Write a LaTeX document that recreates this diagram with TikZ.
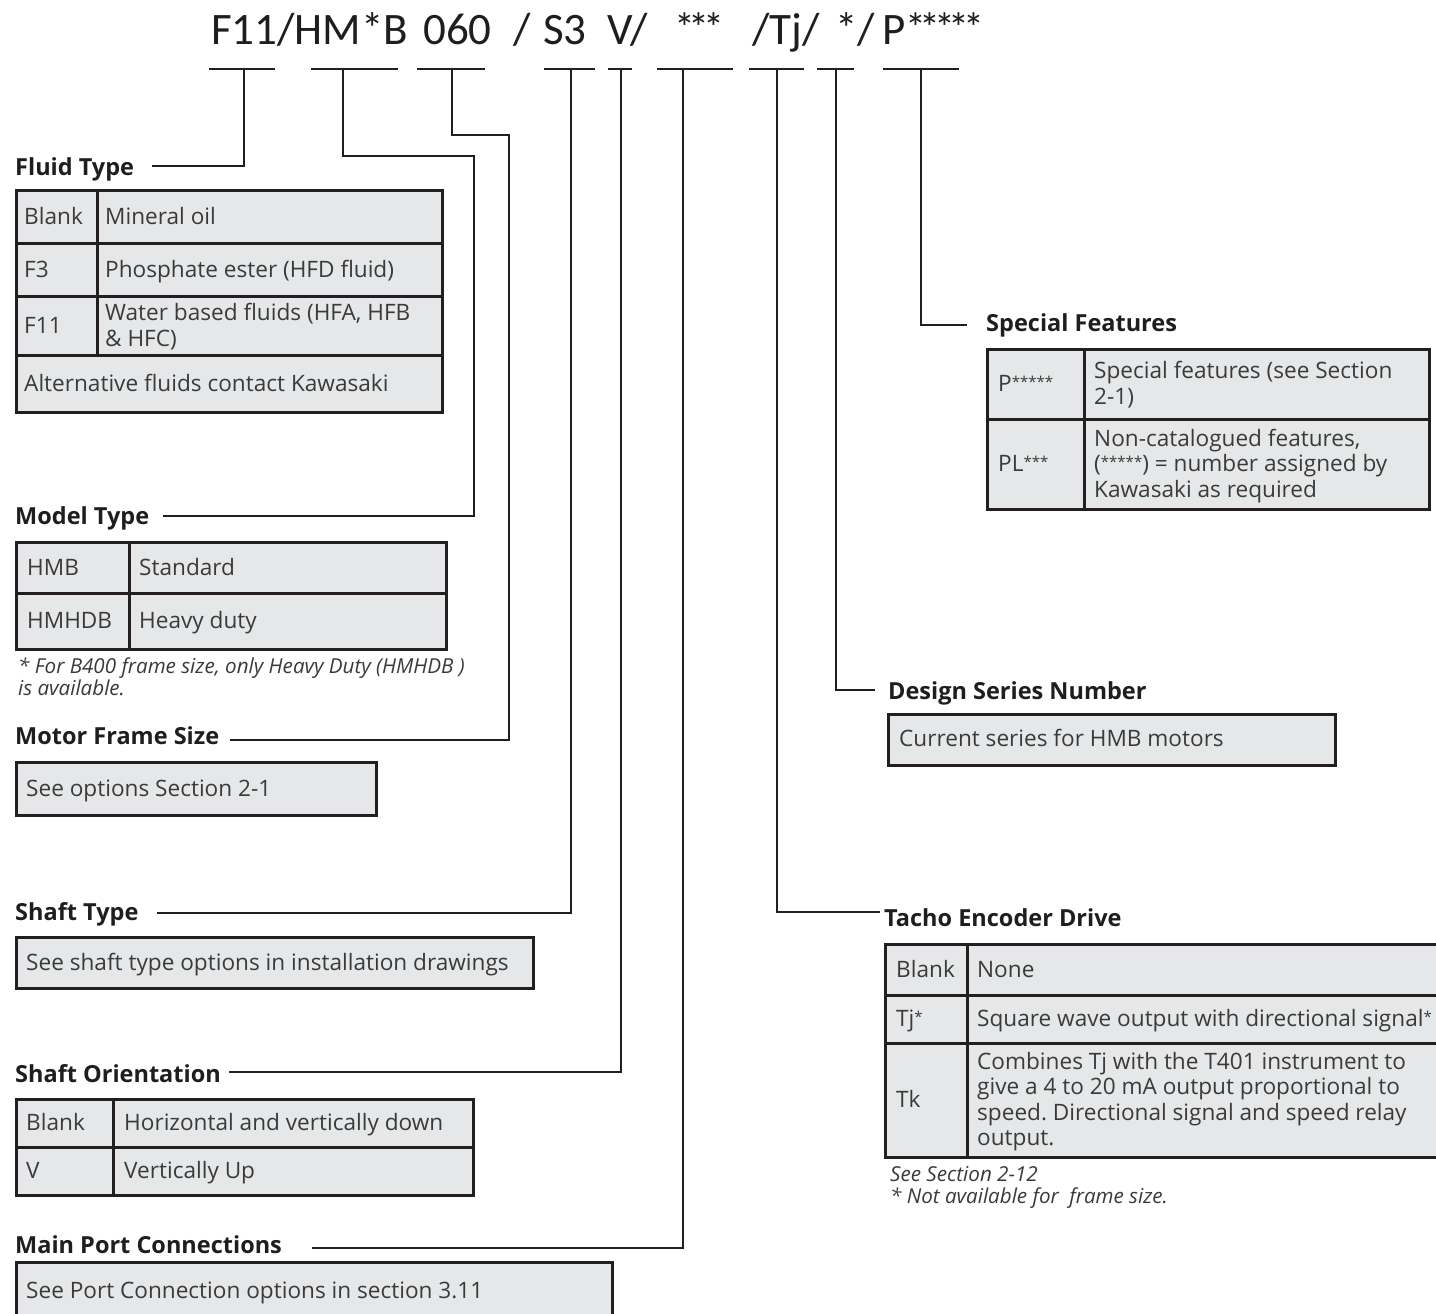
\documentclass[tikz,border=0pt]{standalone}
\usepackage{fontspec}
\setmainfont{Open Sans}
\newfontfamily\codefont{Carlito}
\frenchspacing
\definecolor{lc}{HTML}{231F20}
\definecolor{tg}{HTML}{E6E7E8}
\definecolor{tc}{HTML}{3A3A3A}
\definecolor{hc}{HTML}{1E1E1E}
\newcommand\hstar{\raisebox{2pt}{\fontsize{42}{42}\selectfont *}\kern-6.5pt}
\newcommand\sstar[1]{\raisebox{4.5pt}{\fontsize{15}{15}\selectfont #1}}
\tikzset{
  ln/.style={draw=lc, line width=2.5pt},
  cell/.style 2 args={draw=lc, fill=tg, line width=2.8pt, anchor=north west, inner sep=0pt, minimum width=#1pt, minimum height=#2pt},
  tx/.style={anchor=base west, inner sep=0pt, text=tc, font=\fontsize{22.6}{26}\selectfont},
  hd/.style={anchor=base west, inner sep=0pt, text=hc, font=\fontsize{23.5}{28}\selectfont\bfseries},
  fn/.style={anchor=base west, inner sep=0pt, text=tc, font=\fontsize{20.6}{22}\selectfont\itshape},
  code/.style={anchor=base west, inner sep=0pt, text=hc, font=\fontsize{45}{50}\selectfont\codefont}
}
\begin{document}
\begin{tikzpicture}[x=1pt,y=-1pt]
\clip (0,0) rectangle (1436,1314);
\fill[white] (0,0) rectangle (1436,1314);

% ---- header code ----
\node[code] (c1) at (211,45) {F11/HM*B};
\node[code] (c2) at (423,45) {060};
\node[code] (c3) at (513,45) {/};
\node[code] (c4) at (543,45) {S3};
\node[code] (c5) at (607,45) {V/};
\node[code] (c6) at (674,45) {\hstar\hstar\hstar};
\node[code] (c7) at (752,45) {/Tj/};
\node[code] (c8) at (835,45) {*/};
\node[code] (c9) at (882,45) {P\hstar\hstar\hstar\hstar\hstar};

% ---- underline segments ----
\coordinate (uA1) at (209,69); \coordinate (uA2) at (275,69); \coordinate (uA) at (244,69);
\coordinate (uB1) at (311,69); \coordinate (uB2) at (398,69); \coordinate (uB) at (343,69);
\coordinate (uC1) at (417,69); \coordinate (uC2) at (485,69); \coordinate (uC) at (452,69);
\coordinate (uD1) at (544,69); \coordinate (uD2) at (595,69); \coordinate (uD) at (571,69);
\coordinate (uE1) at (608,69); \coordinate (uE2) at (632,69); \coordinate (uE) at (621,69);
\coordinate (uF1) at (657,69); \coordinate (uF2) at (733,69); \coordinate (uF) at (683,69);
\coordinate (uG1) at (749,69); \coordinate (uG2) at (804,69); \coordinate (uG) at (777,69);
\coordinate (uH1) at (817,69); \coordinate (uH2) at (854,69); \coordinate (uH) at (836,69);
\coordinate (uI1) at (883,69); \coordinate (uI2) at (959,69); \coordinate (uI) at (921,69);
\foreach \s in {A,B,C,D,E,F,G,H,I}{\draw[ln] (u\s1) -- (u\s2);}

% ---- connector ends ----
\coordinate (eA) at (152,166);
\coordinate (kB) at (474,156); \coordinate (eB) at (163,516);
\coordinate (kC) at (509,135); \coordinate (eC) at (230,740);
\coordinate (eD) at (157,913);
\coordinate (eE) at (229,1072);
\coordinate (eF) at (312,1248);
\coordinate (eG) at (880,912);
\coordinate (eH) at (875,690);
\coordinate (eI) at (967,325);

\draw[ln] (uA) |- (eA);
\draw[ln] (uB) |- (kB) |- (eB);
\draw[ln] (uC) |- (kC) |- (eC);
\draw[ln] (uD) |- (eD);
\draw[ln] (uE) |- (eE);
\draw[ln] (uF) |- (eF);
\draw[ln] (uG) |- (eG);
\draw[ln] (uH) |- (eH);
\draw[ln] (uI) |- (eI);

% ---- headings ----
\node[hd] (hFluid) at (15,175) {Fluid Type};
\node[hd] (hModel) at (15,524) {Model Type};
\node[hd] (hFrame) at (15,744) {Motor Frame Size};
\node[hd] (hShaft) at (15,920) {Shaft Type};
\node[hd] (hOrient) at (15,1082) {Shaft Orientation};
\node[hd] (hPort) at (15,1253) {Main Port Connections};
\node[hd] (hSpecial) at (986,331) {Special Features};
\node[hd] (hDesign) at (888,699) {Design Series Number};
\node[hd] (hTacho) at (884,926) {Tacho Encoder Drive};

% ---- Fluid Type table ----
\node[cell={81}{53}] (fA1) at (15,189) {};
\node[cell={345}{53}] (fB1) at (96,189) {};
\node[cell={81}{53}] (fA2) at (15,242) {};
\node[cell={345}{53}] (fB2) at (96,242) {};
\node[cell={81}{59}] (fA3) at (15,295) {};
\node[cell={345}{59}] (fB3) at (96,295) {};
\node[cell={426}{57}] (fA4) at (15,354) {};
\node[tx] (ft1) at (24,224) {Blank};
\node[tx] (ft2) at (105,224) {Mineral oil};
\node[tx] (ft3) at (24,277) {F3};
\node[tx] (ft4) at (105,277) {Phosphate ester (HFD fluid)};
\node[tx] (ft5) at (24,333) {F11};
\node[tx] (ft6) at (105,320.5) {Water based fluids (HFA, HFB};
\node[tx] (ft7) at (105,346) {\& HFC)};
\node[tx] (ft8) at (24,391) {Alternative fluids contact Kawasaki};

% ---- Model Type table ----
\node[cell={113}{51}] (mA1) at (15,541) {};
\node[cell={317}{51}] (mB1) at (128,541) {};
\node[cell={113}{56}] (mA2) at (15,592) {};
\node[cell={317}{56}] (mB2) at (128,592) {};
\node[tx] (mt1) at (27,575) {HMB};
\node[tx] (mt2) at (139,575) {Standard};
\node[tx] (mt3) at (27,628.5) {HMHDB};
\node[tx] (mt4) at (139,628.5) {Heavy duty};
\node[fn] (mf1) at (18,673) {* For B400 frame size, only Heavy Duty (HMHDB )};
\node[fn] (mf2) at (18,695) {is available.};

% ---- Motor frame size ----
\node[cell={360}{53}] (frB) at (15,761) {};
\node[tx] (frt) at (26,796) {See options Section 2-1};

% ---- Shaft type ----
\node[cell={517}{51}] (shB) at (15,936) {};
\node[tx] (sht) at (26,970) {See shaft type options in installation drawings};

% ---- Shaft orientation ----
\node[cell={97}{48}] (oA1) at (15,1098) {};
\node[cell={360}{48}] (oB1) at (112,1098) {};
\node[cell={97}{48}] (oA2) at (15,1146) {};
\node[cell={360}{48}] (oB2) at (112,1146) {};
\node[tx] (ot1) at (26,1130.5) {Blank};
\node[tx] (ot2) at (124,1130.5) {Horizontal and vertically down};
\node[tx] (ot3) at (26,1178.5) {V};
\node[tx] (ot4) at (124,1178.5) {Vertically Up};

% ---- Main port ----
\node[cell={596}{80}] (pB) at (15,1261) {};
\node[tx] (pt) at (26,1298) {See Port Connection options in section 3.11};

% ---- Special features ----
\node[cell={97}{70}] (sA1) at (986,348) {};
\node[cell={345}{70}] (sB1) at (1083,348) {};
\node[cell={97}{90}] (sA2) at (986,418) {};
\node[cell={345}{90}] (sB2) at (1083,418) {};
\node[tx] (st1) at (998,391.5) {P\sstar{*****}};
\node[tx] (st2) at (1094,378.5) {Special features (see Section};
\node[tx] (st3) at (1094,404) {2-1)};
\node[tx] (st4) at (998,471.5) {PL\sstar{***}};
\node[tx] (st5) at (1094,446) {Non-catalogued features,};
\node[tx] (st6) at (1094,471.5) {(\sstar{*****}) = number assigned by};
\node[tx] (st7) at (1094,497) {Kawasaki as required};

% ---- Design series ----
\node[cell={447}{51}] (dB) at (887,713) {};
\node[tx] (dt) at (899,746.5) {Current series for HMB motors};

% ---- Tacho encoder ----
\node[cell={82}{51}] (tA1) at (884,943) {};
\node[cell={480}{51}] (tB1) at (966,943) {};
\node[cell={82}{48}] (tA2) at (884,994) {};
\node[cell={480}{48}] (tB2) at (966,994) {};
\node[cell={82}{114}] (tA3) at (884,1042) {};
\node[cell={480}{114}] (tB3) at (966,1042) {};
\node[tx] (tt1) at (896,977) {Blank};
\node[tx] (tt2) at (977,977) {None};
\node[tx] (tt3) at (896,1026.5) {Tj\sstar{*}};
\node[tx] (tt4) at (977,1026.5) {Square wave output with directional signal\sstar{*}};
\node[tx] (tt5) at (896,1107.5) {Tk};
\node[tx] (tt6) at (977,1069) {Combines Tj with the T401 instrument to};
\node[tx] (tt7) at (977,1094.5) {give a 4 to 20 mA output proportional to};
\node[tx] (tt8) at (977,1120) {speed. Directional signal and speed relay};
\node[tx] (tt9) at (977,1145.5) {output.};
\node[fn] (tf1) at (890,1181) {See Section 2-12};
\node[fn] (tf2) at (890,1203) {* Not available for\ \ frame size.};
\end{tikzpicture}
\end{document}
